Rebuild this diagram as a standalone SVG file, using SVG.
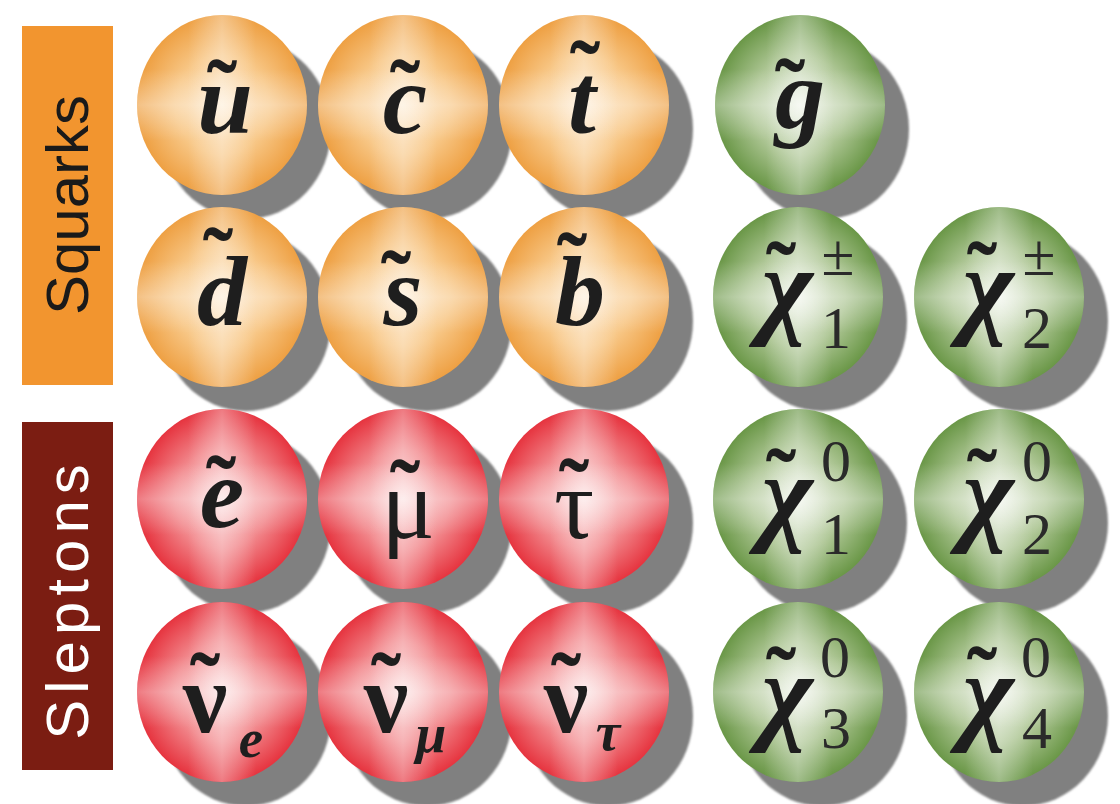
<svg xmlns="http://www.w3.org/2000/svg" width="1120" height="804" viewBox="0 0 1120 804">
<style>
.lbl{font-family:"Liberation Sans","Open Sans",sans-serif;font-size:60px;text-anchor:middle}
.L{font-family:"Liberation Serif","DejaVu Serif",serif;font-size:100px;font-weight:bold;font-style:italic;fill:#1e1e1e;text-anchor:middle}
.U{font-family:"Liberation Serif","DejaVu Serif",serif;font-size:100px;fill:#1e1e1e;text-anchor:middle}
.X{font-family:"Liberation Serif","DejaVu Serif",serif;font-size:110px;font-style:italic;font-weight:bold;fill:#1e1e1e;text-anchor:middle}
.T{font-family:"Liberation Serif","DejaVu Serif",serif;font-size:90px;font-weight:bold;fill:#1e1e1e;text-anchor:middle}
.S{font-family:"Liberation Serif","DejaVu Serif",serif;font-size:60px;fill:#2a2a2a;text-anchor:middle}
.SI{font-family:"Liberation Serif","DejaVu Serif",serif;font-size:55px;font-weight:bold;font-style:italic;fill:#1e1e1e;text-anchor:middle}
</style>
<defs>
<radialGradient id="gO" cx="0.5" cy="0.5" r="0.5">
<stop offset="0" stop-color="#fde6c6"/><stop offset="0.55" stop-color="#f8c888"/><stop offset="1" stop-color="#eea043"/>
</radialGradient>
<radialGradient id="gR" cx="0.5" cy="0.5" r="0.5">
<stop offset="0" stop-color="#fbd6d6"/><stop offset="0.55" stop-color="#f28a8e"/><stop offset="1" stop-color="#e6343f"/>
</radialGradient>
<radialGradient id="gG" cx="0.5" cy="0.5" r="0.5">
<stop offset="0" stop-color="#eaf0e2"/><stop offset="0.55" stop-color="#afc796"/><stop offset="1" stop-color="#6a9747"/>
</radialGradient>
<linearGradient id="bandV" x1="0" y1="0" x2="1" y2="0">
<stop offset="0.3" stop-color="#fff" stop-opacity="0"/><stop offset="0.5" stop-color="#fff" stop-opacity="0.35"/><stop offset="0.7" stop-color="#fff" stop-opacity="0"/>
</linearGradient>
<linearGradient id="bandH" x1="0" y1="0" x2="0" y2="1">
<stop offset="0.3" stop-color="#fff" stop-opacity="0"/><stop offset="0.5" stop-color="#fff" stop-opacity="0.35"/><stop offset="0.7" stop-color="#fff" stop-opacity="0"/>
</linearGradient>
<filter id="soft" x="-10%" y="-10%" width="120%" height="120%"><feGaussianBlur stdDeviation="1.2"/></filter>
<ellipse id="sh" rx="85" ry="90" fill="#808080" filter="url(#soft)"/>
<g id="bO"><ellipse rx="85" ry="90" fill="url(#gO)"/><ellipse rx="85" ry="90" fill="url(#bandV)"/><ellipse rx="85" ry="90" fill="url(#bandH)"/></g>
<g id="bR"><ellipse rx="85" ry="90" fill="url(#gR)"/><ellipse rx="85" ry="90" fill="url(#bandV)"/><ellipse rx="85" ry="90" fill="url(#bandH)"/></g>
<g id="bG"><ellipse rx="85" ry="90" fill="url(#gG)"/><ellipse rx="85" ry="90" fill="url(#bandV)"/><ellipse rx="85" ry="90" fill="url(#bandH)"/></g>
</defs>
<rect width="1120" height="804" fill="#ffffff"/>

<g id="squarks-label">
<rect x="22" y="26" width="91" height="359" fill="#f2952f"/>
<text class="lbl" fill="#1a1a1a" transform="translate(88,205) rotate(-90)">Squarks</text>
</g>
<g id="sleptons-label">
<rect x="22" y="422" width="91" height="348" fill="#7b1d12"/>
<text class="lbl" fill="#ffffff" font-size="62" letter-spacing="6" transform="translate(88,599) rotate(-90)">Sleptons</text>
</g>

<g id="connectors"></g>

<!-- row 1 -->
<g id="su"><use href="#sh" x="246" y="129"/><use href="#bO" x="222" y="105"/>
<text class="T" x="222" y="123">˜</text><text class="L" x="225" y="133">u</text></g>
<g id="sc"><use href="#sh" x="427" y="129"/><use href="#bO" x="403" y="105"/>
<text class="T" x="405" y="123">˜</text><text class="L" x="405" y="133">c</text></g>
<g id="st"><use href="#sh" x="608" y="129"/><use href="#bO" x="584" y="105"/>
<text class="T" x="585" y="104">˜</text><text class="L" x="582" y="133">t</text></g>
<g id="gluino"><use href="#sh" x="824" y="129"/><use href="#bG" x="800" y="105"/>
<text class="T" x="790" y="122">˜</text><text class="L" x="800" y="128">g</text></g>

<!-- row 2 -->
<g id="sd"><use href="#sh" x="246" y="321"/><use href="#bO" x="222" y="297"/>
<text class="T" x="218" y="291">˜</text><text class="L" x="222" y="325">d</text></g>
<g id="ss"><use href="#sh" x="427" y="321"/><use href="#bO" x="403" y="297"/>
<text class="T" x="396" y="314">˜</text><text class="L" x="403" y="325">s</text></g>
<g id="sb"><use href="#sh" x="608" y="321"/><use href="#bO" x="584" y="297"/>
<text class="T" x="572" y="296">˜</text><text class="L" x="580" y="325">b</text></g>
<g id="chargino1"><use href="#sh" x="822" y="321"/><use href="#bG" x="798" y="297"/>
<text class="T" x="781" y="305">˜</text><text class="X" x="787" y="324">χ</text>
<text class="S" x="838" y="275">±</text><text class="S" x="836" y="348">1</text></g>
<g id="chargino2"><use href="#sh" x="1023" y="321"/><use href="#bG" x="999" y="297"/>
<text class="T" x="982" y="305">˜</text><text class="X" x="988" y="324">χ</text>
<text class="S" x="1039" y="275">±</text><text class="S" x="1037" y="348">2</text></g>

<!-- row 3 -->
<g id="se"><use href="#sh" x="246" y="523"/><use href="#bR" x="222" y="499"/>
<text class="T" x="221" y="519">˜</text><text class="L" x="222" y="527">e</text></g>
<g id="smu"><use href="#sh" x="427" y="523"/><use href="#bR" x="403" y="499"/>
<text class="T" x="405" y="523">˜</text><text class="U" x="408" y="538">μ</text></g>
<g id="stau"><use href="#sh" x="608" y="523"/><use href="#bR" x="584" y="499"/>
<text class="T" x="574" y="522">˜</text><text class="U" x="574" y="538">τ</text></g>
<g id="neutralino1"><use href="#sh" x="822" y="523"/><use href="#bG" x="798" y="499"/>
<text class="T" x="781" y="512">˜</text><text class="X" x="787" y="531">χ</text>
<text class="S" x="836" y="481">0</text><text class="S" x="836" y="554">1</text></g>
<g id="neutralino2"><use href="#sh" x="1023" y="523"/><use href="#bG" x="999" y="499"/>
<text class="T" x="982" y="512">˜</text><text class="X" x="988" y="531">χ</text>
<text class="S" x="1037" y="481">0</text><text class="S" x="1037" y="554">2</text></g>

<!-- row 4 -->
<g id="snu-e"><use href="#sh" x="246" y="716"/><use href="#bR" x="222" y="692"/>
<text class="T" x="205" y="716">˜</text><text class="U" x="205" y="732" font-size="110" font-weight="bold">ν</text><text class="SI" x="251" y="757">e</text></g>
<g id="snu-mu"><use href="#sh" x="427" y="716"/><use href="#bR" x="403" y="692"/>
<text class="T" x="386" y="716">˜</text><text class="U" x="386" y="732" font-size="110" font-weight="bold">ν</text><text class="SI" x="431" y="752" font-style="normal">μ</text></g>
<g id="snu-tau"><use href="#sh" x="608" y="716"/><use href="#bR" x="584" y="692"/>
<text class="T" x="566" y="716">˜</text><text class="U" x="566" y="732" font-size="110" font-weight="bold">ν</text><text class="SI" x="608" y="750" font-style="normal">τ</text></g>
<g id="neutralino3"><use href="#sh" x="822" y="716"/><use href="#bG" x="798" y="692"/>
<text class="T" x="781" y="710">˜</text><text class="X" x="787" y="730">χ</text>
<text class="S" x="835" y="677">0</text><text class="S" x="836" y="748">3</text></g>
<g id="neutralino4"><use href="#sh" x="1023" y="716"/><use href="#bG" x="999" y="692"/>
<text class="T" x="982" y="710">˜</text><text class="X" x="988" y="730">χ</text>
<text class="S" x="1036" y="677">0</text><text class="S" x="1037" y="748">4</text></g>
</svg>
